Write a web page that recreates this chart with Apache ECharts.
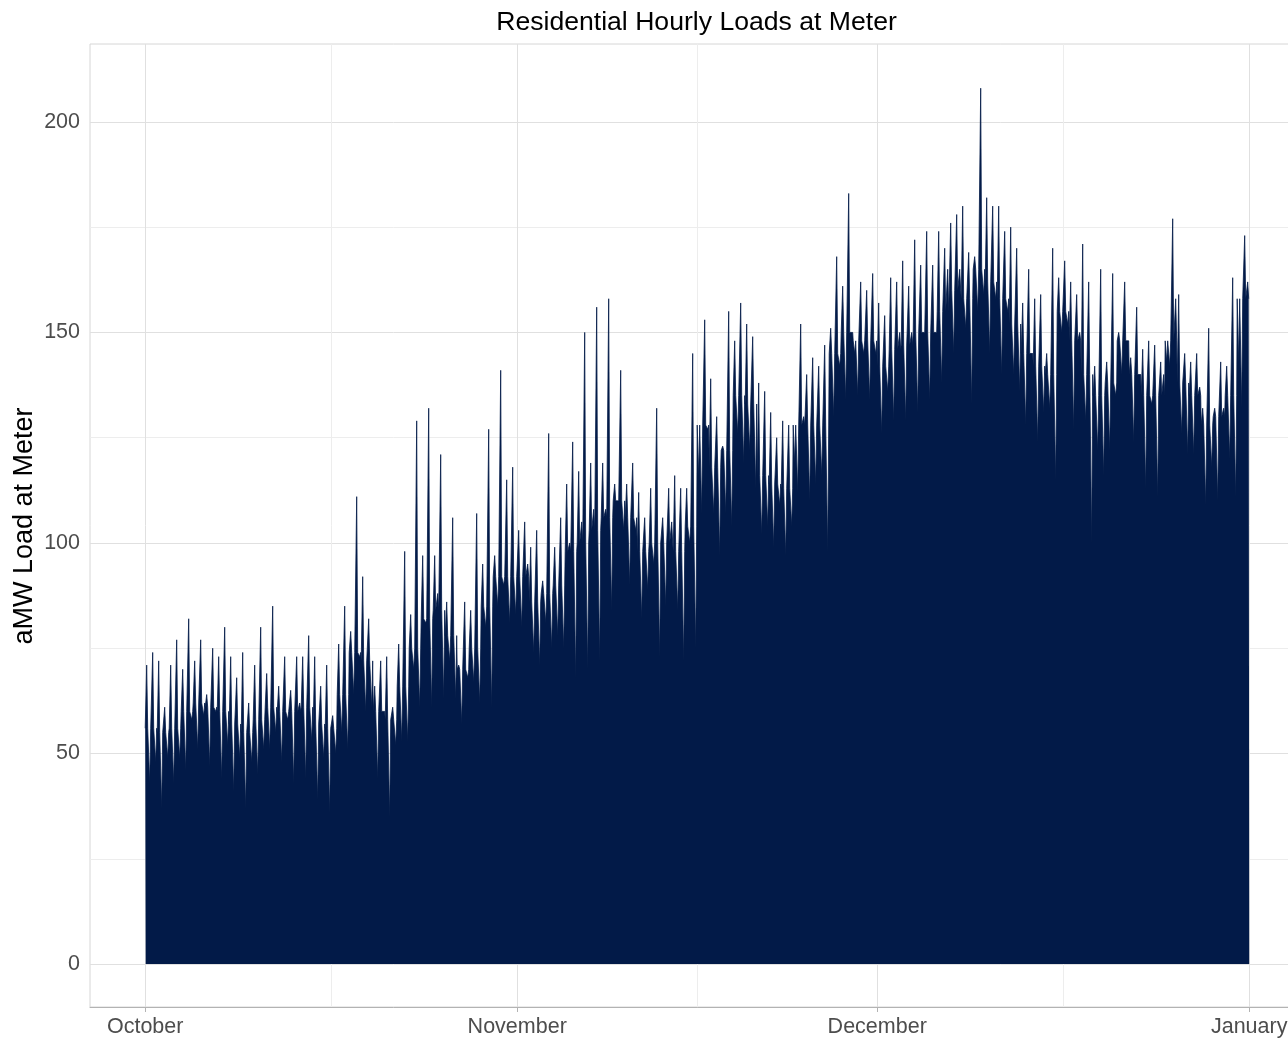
<!DOCTYPE html>
<html>
<head>
<meta charset="utf-8">
<script src="https://cdn.jsdelivr.net/npm/echarts@6/dist/echarts.min.js"></script>
<style>
  html, body { margin: 0; padding: 0; background: #ffffff; overflow: hidden; width: 1288px; height: 1038px; }
  #chart { width: 1310px; height: 1038px; }
</style>
</head>
<body>
<div id="chart"></div>
<script>
// Daily values (day 0 = 1 October, day 91 = 31 December), aMW.
// Each day: an early spike, a trough, a later spike, a late trough, and the typical fill level.
const peak1 = [71,72,71,70,72,64,73,73,74,71,69,66,65,73,73,71,76,79,92,66,73,76,83,97,97,86,71,84,95,97,115,103,99,91,99,114,117,119,119,114,114,112,113,106,116,113,116,139,123,148,152,138,131,129,119,140,142,151,161,145,160,157,163,167,172,174,174,176,180,168,182,180,175,157,158,145,163,162,171,142,143,150,144,146,147,143,159,143,132,132,142,143];
const trough1 = [43,37,43,46,51,47,44,41,37,45,51,48,43,44,39,36,55,64,60,44,35,53,70,81,88,72,57,67,80,85,81,80,74,81,78,100,105,108,108,110,90,82,95,85,84,100,107,107,107,126,122,102,99,97,112,110,116,130,134,135,134,126,129,129,131,134,138,145,151,155,145,140,140,128,124,132,150,127,129,122,122,140,124,113,111,142,126,121,109,110,120,132];
const peak2 = [74,61,77,82,77,75,80,68,62,80,85,73,73,78,66,59,85,111,82,72,61,98,129,132,121,106,86,107,127,141,118,105,103,126,106,124,150,156,158,141,119,106,132,113,113,145,153,130,155,157,149,136,125,128,152,144,147,168,183,162,164,154,162,161,166,166,170,178,169,208,180,174,170,165,159,170,167,159,162,165,164,162,156,148,143,177,145,145,151,143,163,173];
const trough2 = [48,49,49,58,59,60,52,49,48,51,55,58,62,53,49,50,51,73,61,60,52,53,61,61,63,63,68,62,61,90,83,95,71,75,75,68,70,72,84,103,103,89,73,105,72,75,127,97,104,119,113,104,109,104,130,114,98,142,150,145,145,136,150,150,150,150,165,165,133,159,158,155,136,145,131,115,152,150,100,116,135,148,140,133,140,158,121,137,118,132,111,162];
const baseLevel = [56,55,56,60,62,61,60,57,55,58,61,60,60,61,57,56,64,74,72,60,58,66,75,82,84,78,70,75,85,92,92,92,86,88,90,98,100,103,106,110,106,98,100,100,98,104,128,118,122,135,133,116,114,113,128,128,128,145,150,148,148,142,146,147,150,150,155,160,158,165,162,158,152,145,142,140,155,148,140,135,138,148,140,135,135,148,138,135,128,130,135,158];

const monthTicks = [0, 31, 61, 92];
const monthLabels = ['October', 'November', 'December', 'January'];
const yTicks = [0, 50, 100, 150, 200];
const yMinorTicks = [25, 75, 125, 175];
const xMinorTicks = [15.5, 46, 76.5];

// Build the hourly-position series from the read values
const eventHours = [3, 9, 15, 21];
const eventArrays = [peak1, trough1, peak2, trough2];
const points = [];
for (let d = 0; d < baseLevel.length; d++) {
  const b = baseLevel[d];
  points.push([d, b]);
  for (let k = 0; k < 4; k++) {
    const h = eventHours[k];
    points.push([d + (h - 2) / 24, b]);
    points.push([d + h / 24, eventArrays[k][d]]);
    points.push([d + (h + 2) / 24, b]);
  }
}
points.push([baseLevel.length, baseLevel[baseLevel.length - 1]]);

const FONT = '"Liberation Sans", Arial, Helvetica, sans-serif';
const majorGrid = { color: '#e0e0e0', width: 1, type: 'solid' };
const minorGrid = { color: '#ededed', width: 1, type: 'solid' };

const gridLines = [];
yTicks.forEach(v => gridLines.push({ yAxis: v, lineStyle: majorGrid }));
yMinorTicks.forEach(v => gridLines.push({ yAxis: v, lineStyle: minorGrid }));
monthTicks.forEach(v => gridLines.push({ xAxis: v, lineStyle: majorGrid }));
xMinorTicks.forEach(v => gridLines.push({ xAxis: v, lineStyle: minorGrid }));

const chart = echarts.init(document.getElementById('chart'), null, { renderer: 'canvas' });
chart.setOption({
  animation: false,
  backgroundColor: '#ffffff',
  grid: {
    left: 90, top: 44, width: 1214.4, height: 964,
    show: true, borderColor: '#d6d6d6', borderWidth: 1, backgroundColor: 'transparent'
  },
  xAxis: {
    type: 'value', min: -4.6, max: 96.6,
    splitLine: { show: false },
    axisLine: { show: true, onZero: false, lineStyle: { color: '#b3b3b3', width: 1 } },
    axisTick: { show: true, length: 5, customValues: monthTicks, lineStyle: { color: '#b3b3b3', width: 1 } },
    axisLabel: {
      customValues: monthTicks, showMinLabel: true, showMaxLabel: true,
      margin: 9, color: '#4d4d4d', fontSize: 21.5, fontFamily: FONT,
      formatter: v => monthLabels[monthTicks.indexOf(Math.round(v))] || ''
    }
  },
  yAxis: {
    type: 'value', min: -10.2, max: 218.5,
    splitLine: { show: false },
    axisLine: { show: false },
    axisTick: { show: true, length: 5, customValues: yTicks, lineStyle: { color: '#b3b3b3', width: 1 } },
    axisLabel: {
      customValues: yTicks, showMinLabel: true, showMaxLabel: true,
      margin: 10, color: '#4d4d4d', fontSize: 21.5, fontFamily: FONT,
      padding: [4, 0, 0, 0]
    }
  },
  graphic: [
    { type: 'text', x: 696.5, y: 22.5, z: 100,
      style: { text: 'Residential Hourly Loads at Meter', font: '26.6px ' + FONT, fill: '#000000',
               textAlign: 'center', textVerticalAlign: 'middle', align: 'center', verticalAlign: 'middle' } },
    { type: 'text', x: 25, y: 526, rotation: Math.PI / 2, z: 100,
      style: { text: 'aMW Load at Meter', font: '27px ' + FONT, fill: '#000000',
               textAlign: 'center', textVerticalAlign: 'middle', align: 'center', verticalAlign: 'middle' } }
  ],
  series: [
    {
      type: 'line', data: [], z: 1, silent: true,
      markLine: { silent: true, symbol: ['none', 'none'], label: { show: false }, animation: false, data: gridLines }
    },
    {
      type: 'line', data: points, z: 5, silent: true,
      symbol: 'none', showSymbol: false, smooth: false,
      lineStyle: { color: '#021a48', width: 0.8 },
      areaStyle: { color: '#021a48', opacity: 1 },
      itemStyle: { color: '#021a48' }
    }
  ]
});
</script>
</body>
</html>
